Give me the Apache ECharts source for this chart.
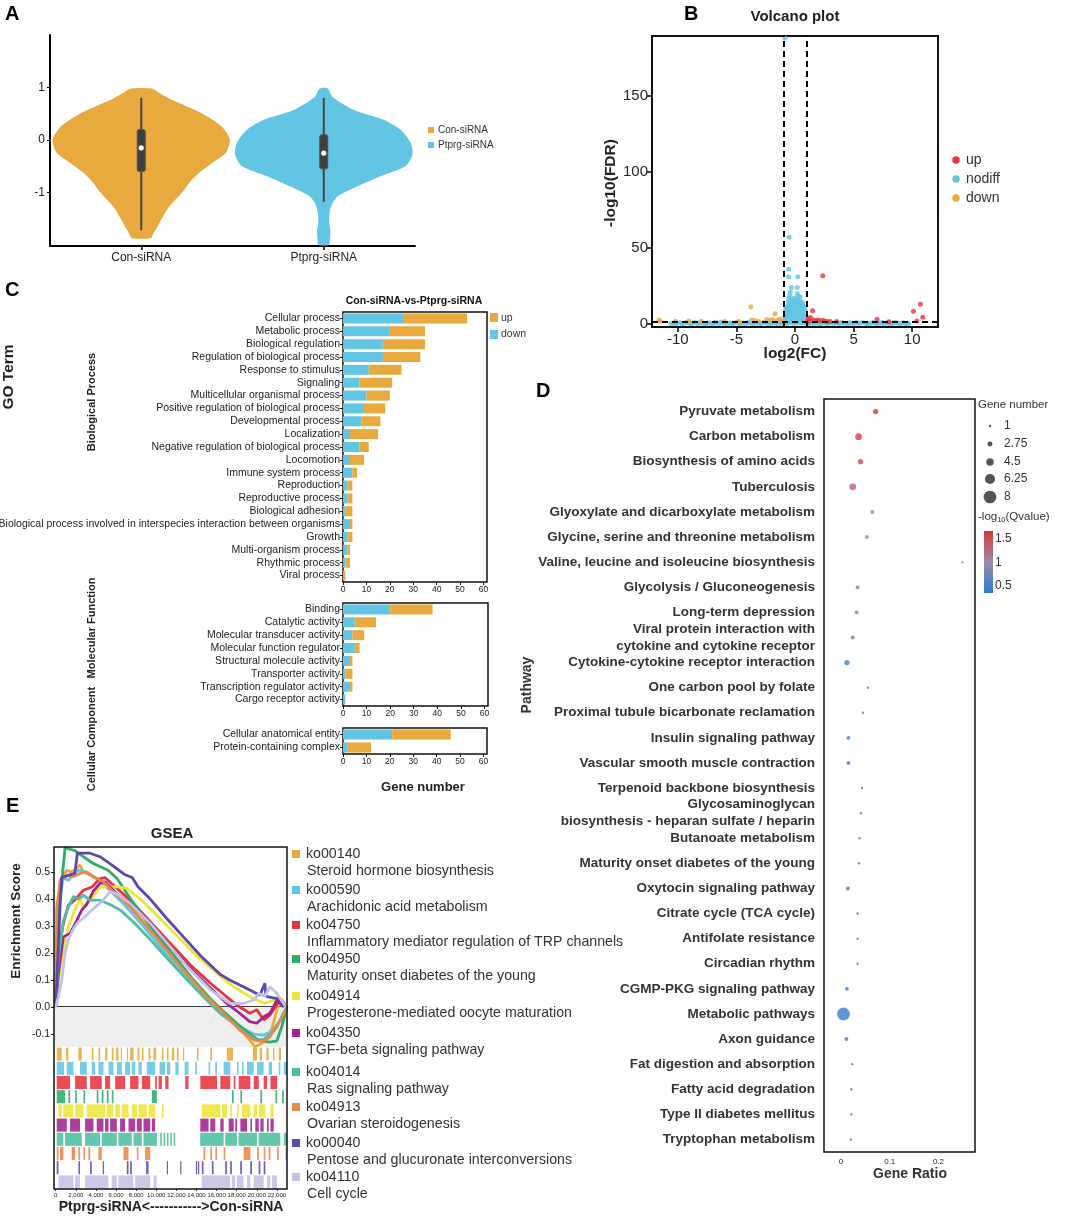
<!DOCTYPE html>
<html><head><meta charset="utf-8">
<script src="https://cdn.jsdelivr.net/npm/echarts@6/dist/echarts.min.js"></script>
<style>html,body{margin:0;padding:0;background:#fff}#c{width:1065px;height:1217px}</style>
</head><body><div id="c"></div>
<script>
// ---------------- DATA ----------------
// Panel A: violin profiles (value, relative half-width) and box stats
const violinGroups = ['Con-siRNA', 'Ptprg-siRNA'];
const conViolinY = [0.98, 0.9, 0.76, 0.5, 0.25, 0.0, -0.25, -0.44, -0.63, -0.8, -1.0, -1.28, -1.5, -1.66, -1.8, -1.87];
const conViolinW = [0.12, 0.2, 0.35, 0.69, 0.91, 1.0, 0.95, 0.8, 0.65, 0.55, 0.46, 0.31, 0.23, 0.18, 0.13, 0.11];
const ptViolinY = [0.98, 0.82, 0.57, 0.38, 0.19, -0.06, -0.28, -0.5, -0.69, -0.88, -1.06, -1.2, -1.35, -1.55, -1.75, -1.9, -2.0];
const ptViolinW = [0.045, 0.1, 0.34, 0.68, 0.87, 0.98, 1.0, 0.92, 0.64, 0.38, 0.17, 0.1, 0.07, 0.06, 0.075, 0.07, 0.06];
const conBox = [-1.72, -0.6, -0.15, 0.2, 0.8];   // whiskerLow, q1, median, q3, whiskerHigh
const ptBox = [-1.18, -0.55, -0.25, 0.1, 0.8];
const violinYTicks = [-1, 0, 1];

// Panel B: volcano points [log2FC, -log10FDR]
const volcanoUp = [[2.37,31.8],[1.5,8.7],[10.7,13],[10.1,8.3],[10.9,4.4],[7.0,3.1],[1.14,3.2],[1.3,4.2],[1.56,2.8],[1.8,2.3],[1.99,2.6],[2.2,2.0],[2.41,2.4],[2.7,1.8],[3.0,1.6],[3.55,1.7],[8.0,1.5],[1.2,2.0],[1.05,1.6],[10.4,2.0]];
const volcanoDown = [[-11.6,2.6],[-11.5,1.8],[-10.2,1.7],[-9.06,1.9],[-8.0,1.8],[-6.0,1.6],[-4.8,1.7],[-3.76,11.3],[-3.7,2.6],[-3.4,2.2],[-3.1,1.7],[-2.4,3.0],[-2.1,2.4],[-1.9,2.8],[-1.7,6.8],[-1.5,2.5],[-1.3,3.2],[-1.15,2.0],[-1.05,1.6]];
const volcanoNodiff = [[-10.4,0.5],[-10.1,0.2],[-9.8,0.9],[-9.5,0.4],[-9.1,0.7],[-8.8,0.1],[-8.4,0.6],[-8.1,1.0],[-7.7,0.3],[-7.4,0.8],[-7.0,0.2],[-6.7,0.6],[-6.3,1.1],[-6.0,0.4],[-5.6,0.7],[-5.3,0.2],[-4.9,0.9],[-4.6,0.5],[-4.2,0.1],[-3.9,0.8],[-3.5,0.4],[-3.2,1.0],[-2.9,0.3],[-2.5,0.7],[-2.2,0.2],[-1.9,0.9],[-1.6,0.5],[-1.3,1.1],[-1.1,0.3],
 [1.1,0.4],[1.3,1.0],[1.6,0.2],[1.9,0.7],[2.2,0.4],[2.5,1.1],[2.8,0.2],[3.1,0.6],[3.5,0.9],[3.8,0.3],[4.1,0.7],[4.5,0.1],[4.8,0.5],[5.2,1.0],[5.5,0.3],[5.9,0.7],[6.2,0.2],[6.6,0.9],[6.9,0.4],[7.3,0.6],[7.6,0.1],[8.0,0.8],[8.3,0.3],[8.7,0.6],[9.0,0.2],[9.4,0.5],[9.7,0.3],
 [-10.6,0.3],[-10.25,0.8],[-9.65,0.1],[-9.3,1.0],[-8.95,0.5],[-8.6,0.9],[-8.25,0.2],[-7.9,0.5],[-7.55,0.1],[-7.2,0.4],[-6.85,1.0],[-6.5,0.3],[-6.15,0.7],[-5.8,0.1],[-5.45,0.5],[-5.1,0.8],[-4.75,0.2],[-4.4,0.6],[-4.05,1.0],[-3.7,0.1],[-3.35,0.6],[-3.05,0.2],[-2.7,1.0],[-2.35,0.5],[-2.05,0.1],[-1.75,0.6],[-1.45,0.2],[-1.2,0.8],
 [1.2,0.1],[1.45,0.6],[1.75,0.9],[2.05,0.1],[2.35,0.7],[2.65,0.4],[2.95,0.9],[3.3,0.2],[3.65,0.6],[3.95,1.0],[4.3,0.4],[4.65,0.8],[5.0,0.2],[5.35,0.6],[5.7,0.9],[6.05,0.5],[6.4,0.1],[6.75,0.7],[7.1,0.3],[7.45,0.9],[7.8,0.5],[8.15,0.1],[8.5,0.9],[8.85,0.4],[9.2,0.8],[9.55,0.1],
 [-0.9,1.5],[-0.85,3],[-0.8,5],[-0.75,2],[-0.7,7],[-0.65,4],[-0.6,9],[-0.55,1],[-0.5,6],[-0.45,11],[-0.4,3],[-0.35,8],[-0.3,14],[-0.25,5],[-0.2,10],[-0.15,2],[-0.1,7],[-0.05,12],[0,4],[0.05,9],[0.1,1.5],[0.15,6],[0.2,11],[0.25,3],[0.3,8],[0.35,13],[0.4,5],[0.45,10],[0.5,2],[0.55,7],[0.6,12],[0.65,4],[0.7,9],[0.75,2.5],[0.8,6],[0.85,3.5],[0.9,1],
 [-0.88,4],[-0.78,10],[-0.68,5.5],[-0.62,12],[-0.58,3],[-0.48,8],[-0.42,14],[-0.38,6],[-0.28,9],[-0.22,13],[-0.18,4],[-0.12,17],[-0.08,9],[0.02,14],[0.08,6],[0.12,10],[0.18,3],[0.22,8],[0.28,13],[0.32,5],[0.38,10],[0.42,18],[0.48,7],[0.52,12],[0.58,4],[0.62,8],[0.68,14],[0.72,6],[0.78,11],[0.82,3],[0.88,7],
 [-0.6,15],[-0.5,17],[-0.45,19],[-0.4,21],[-0.35,16],[-0.5,13],[0.2,15],[0.25,18],[0.2,20],[0.3,16],[0.4,14],[0.5,15],[0.15,13],[-0.3,11],[0.05,16],[-0.15,15],[0.6,10],[0.7,12],[-0.7,11],[-0.8,8],[0.85,9],
 [-0.3,24],[0.2,24],[-0.54,31],[0.23,31],[-0.54,36],[-0.5,57],[-0.85,188],
 [-0.95,0.5],[-0.7,0.3],[-0.4,0.8],[-0.1,0.2],[0.2,0.6],[0.5,0.4],[0.8,0.9],[0.95,0.3]];
const fcThreshold = 1;
const fdrThreshold = 1.3;
const volcanoXTicks = [-10, -5, 0, 5, 10];
const volcanoYTicks = [0, 50, 100, 150];

// Panel C: GO terms (down / up gene numbers)
const goBP = ['Cellular process','Metabolic process','Biological regulation','Regulation of biological process','Response to stimulus','Signaling','Multicellular organismal process','Positive regulation of biological process','Developmental process','Localization','Negative regulation of biological process','Locomotion','Immune system process','Reproduction','Reproductive process','Biological adhesion','Biological process involved in interspecies interaction between organisms','Growth','Multi-organism process','Rhythmic process','Viral process'];
const goBPDown = [26,20,17,17,11,7,10,9,8,3,7,3,4,2,2,1,3,2,2,1,0];
const goBPUp   = [27,15,18,16,14,14,10,9,8,12,4,6,2,2,2,3,1,2,1,2,1];
const goMF = ['Binding','Catalytic activity','Molecular transducer activity','Molecular function regulator','Structural molecule activity','Transporter activity','Transcription regulator activity','Cargo receptor activity'];
const goMFDown = [20,5,4,5,3,1,3,1];
const goMFUp   = [18,9,5,2,1,3,1,0];
const goCC = ['Cellular anatomical entity','Protein-containing complex'];
const goCCDown = [21,2];
const goCCUp   = [25,10];
const goTicks = [0,10,20,30,40,50,60];

// Panel D: KEGG enrichment
const pathways = ['Pyruvate metabolism','Carbon metabolism','Biosynthesis of amino acids','Tuberculosis','Glyoxylate and dicarboxylate metabolism','Glycine, serine and threonine metabolism','Valine, leucine and isoleucine biosynthesis','Glycolysis / Gluconeogenesis','Long-term depression','Viral protein interaction with\ncytokine and cytokine receptor','Cytokine-cytokine receptor interaction','One carbon pool by folate','Proximal tubule bicarbonate reclamation','Insulin signaling pathway','Vascular smooth muscle contraction','Terpenoid backbone biosynthesis','Glycosaminoglycan\nbiosynthesis - heparan sulfate / heparin','Butanoate metabolism','Maturity onset diabetes of the young','Oxytocin signaling pathway','Citrate cycle (TCA cycle)','Antifolate resistance','Circadian rhythm','CGMP-PKG signaling pathway','Metabolic pathways','Axon guidance','Fat digestion and absorption','Fatty acid degradation','Type II diabetes mellitus','Tryptophan metabolism'];
const geneRatio = [0.071,0.036,0.040,0.024,0.064,0.053,0.249,0.034,0.032,0.024,0.012,0.055,0.045,0.015,0.015,0.043,0.041,0.038,0.037,0.014,0.034,0.034,0.034,0.012,0.005,0.011,0.023,0.021,0.021,0.020];
const geneNumber = [3,4,3,4,2,2,1,2,2,2,3,1,1,2,2,1,1,1,1,2,1,1,1,2,8,2,1,1,1,1];
const qValueLog = [1.67,1.62,1.45,1.35,1.25,1.15,1.0,0.8,0.72,0.6,0.5,0.45,0.45,0.42,0.42,0.42,0.4,0.4,0.4,0.4,0.4,0.4,0.4,0.4,0.4,0.4,0.4,0.4,0.4,0.4];
const ratioTicks = [0, 0.1, 0.2];
const sizeLegendValues = [1, 2.75, 4.5, 6.25, 8];
const qLegendTicks = [0.5, 1, 1.5];
const qMin = 0.34, qMax = 1.67;

// Panel E: GSEA
const gsIds = ['ko00140','ko00590','ko04750','ko04950','ko04914','ko04350','ko04014','ko04913','ko00040','ko04110'];
const gsNames = ['Steroid hormone biosynthesis','Arachidonic acid metabolism','Inflammatory mediator regulation of TRP channels','Maturity onset diabetes of the young','Progesterone-mediated oocyte maturation','TGF-beta signaling pathway','Ras signaling pathway','Ovarian steroidogenesis','Pentose and glucuronate interconversions','Cell cycle'];
// running enrichment score: [rank (thousands), ES]
const es_ko00140 = [[0,0],[0.1,0.25],[0.43,0.47],[1.1,0.507],[1.6,0.5],[2.42,0.526],[2.75,0.5],[3.75,0.483],[4.7,0.458],[6.07,0.42],[7.4,0.372],[9.4,0.285],[11.4,0.2],[13.4,0.112],[15.4,0.026],[16.7,-0.023],[18.0,-0.067],[19.3,-0.122],[19.8,-0.147],[20.5,-0.135],[21.0,-0.11],[21.5,-0.08],[22.0,-0.01],[22.3,0.03],[22.6,0]];
const es_ko00590 = [[0,0],[0.27,0.37],[0.76,0.48],[1.26,0.47],[1.76,0.49],[2.25,0.507],[3.08,0.5],[4.08,0.476],[5.4,0.433],[6.7,0.384],[8.7,0.3],[10.7,0.21],[12.7,0.125],[14.7,0.05],[16.7,-0.023],[18.3,-0.073],[19.7,-0.1],[20.7,-0.104],[21.5,-0.09],[22.3,-0.05],[23,0]];
const es_ko04750 = [[0,0],[0.27,0.21],[0.76,0.31],[1.26,0.378],[1.9,0.396],[2.75,0.433],[3.6,0.445],[4.4,0.476],[4.9,0.48],[6.07,0.44],[7.4,0.396],[9.4,0.316],[11.4,0.236],[13.4,0.156],[15.4,0.088],[17.0,0.038],[18.3,0.0],[19.3,-0.023],[20.0,-0.01],[20.7,-0.048],[21.3,-0.03],[22.0,0.01],[22.4,0.03],[23,0]];
const es_ko04950 = [[0,0],[0.3,0.35],[0.93,0.59],[1.9,0.58],[2.75,0.557],[3.75,0.532],[5.2,0.507],[6.1,0.476],[7.1,0.42],[8.4,0.35],[10.0,0.27],[12.0,0.18],[13.7,0.1],[15.4,0.03],[16.5,-0.01],[18.0,-0.06],[19.3,-0.1],[20.3,-0.125],[21.3,-0.13],[22.0,-0.125],[22.5,-0.07],[23,0]];
const es_ko04914 = [[0,0],[0.27,0.1],[0.76,0.21],[1.26,0.3],[1.76,0.347],[2.42,0.4],[2.75,0.37],[3.75,0.41],[4.4,0.445],[6.07,0.446],[7.07,0.44],[8.4,0.4],[10.05,0.34],[12.0,0.267],[14.0,0.19],[16.0,0.125],[17.7,0.075],[19.3,0.038],[20.7,0.014],[21.3,0.02],[22.3,0.032],[23,0]];
const es_ko04350 = [[0,0],[0.27,0.125],[0.76,0.26],[1.43,0.273],[2.09,0.32],[2.6,0.36],[3.08,0.38],[3.75,0.43],[4.4,0.458],[4.9,0.464],[6.07,0.42],[7.4,0.384],[9.4,0.31],[11.4,0.223],[13.4,0.143],[15.4,0.07],[17.0,0.014],[18.3,-0.023],[19.3,-0.054],[20.0,-0.06],[20.7,-0.036],[21.3,-0.023],[22.0,0.026],[22.7,0]];
const es_ko04014 = [[0,0],[0.27,0.186],[0.76,0.32],[1.26,0.37],[1.76,0.41],[2.25,0.4],[2.75,0.415],[3.4,0.396],[4.4,0.396],[5.4,0.38],[6.4,0.36],[7.7,0.316],[9.4,0.25],[11.4,0.168],[13.4,0.088],[15.0,0.026],[16.35,-0.023],[17.7,-0.06],[19.0,-0.1],[20.0,-0.122],[20.7,-0.12],[21.3,-0.104],[22.0,-0.074],[22.6,-0.025],[23,0]];
const es_ko04913 = [[0,0],[0.1,0.37],[0.43,0.458],[1.1,0.49],[1.76,0.483],[2.42,0.495],[3.08,0.5],[3.75,0.483],[4.74,0.464],[5.7,0.427],[7.07,0.384],[9.05,0.3],[11.05,0.21],[13.0,0.125],[15.0,0.038],[16.7,-0.023],[18.3,-0.085],[19.7,-0.122],[20.7,-0.128],[21.3,-0.11],[22.3,-0.05],[23,-0.005]];
const es_ko00040 = [[0,0],[0.43,0.37],[0.6,0.48],[1.9,0.495],[2.16,0.57],[3.4,0.57],[4.4,0.557],[5.6,0.526],[6.9,0.49],[7.6,0.48],[8.2,0.445],[9.4,0.40],[11.0,0.33],[12.7,0.26],[14.4,0.19],[16.4,0.12],[17.3,0.10],[19.3,0.063],[20.3,0.044],[20.8,0.088],[20.9,0.04],[21.5,0.035],[22.2,0.03],[23,0]];
const es_ko04110 = [[0,0],[0.26,0.038],[0.6,0.1],[0.93,0.2],[1.26,0.25],[1.76,0.29],[2.25,0.316],[2.92,0.334],[3.4,0.353],[3.9,0.37],[4.57,0.39],[5.4,0.427],[6.07,0.42],[7.4,0.384],[9.4,0.31],[11.4,0.223],[13.4,0.137],[15.4,0.063],[17.3,0.014],[18.7,0.014],[19.7,0.026],[20.2,0.05],[20.8,0.04],[21.3,0.075],[22.0,0.05],[22.7,0.01],[23,0]];
// hit positions: [start, end] in rank thousands
const rug_ko00140 = [[0.1,0.6],[1.03,1.26],[2.26,2.59],[3.58,3.75],[4.25,4.42],[4.91,5.15],[5.58,5.74],[6.01,6.24],[6.47,6.57],[7.07,7.14],[7.4,7.74],[8.13,8.33],[8.57,8.73],[9.23,9.4],[9.73,9.99],[10.56,10.72],[11.06,11.22],[11.55,11.79],[12.05,12.22],[12.65,12.78],[14.04,14.21],[15.37,15.54],[17.03,17.63],[19.62,20.02],[20.29,20.52],[20.95,21.18],[21.61,21.75],[22.18,22.41]];
const rug_ko00590 = [[0.1,0.83],[1.1,1.76],[2.42,3.09],[3.58,3.92],[4.25,4.75],[5.25,5.74],[6.08,6.57],[6.9,7.4],[7.57,7.9],[8.23,8.56],[9.06,9.89],[10.33,10.89],[11.06,11.39],[11.89,12.22],[12.82,13.21],[13.88,14.04],[15.2,15.37],[15.87,16.04],[16.7,17.36],[18.03,18.19],[18.53,18.69],[19.02,19.69],[20.02,20.68],[21.18,21.51],[22.18,22.34],[22.68,23.0]];
const rug_ko04750 = [[0.1,1.43],[1.93,3.09],[3.42,4.58],[4.91,5.41],[5.91,6.9],[7.4,8.23],[8.56,9.4],[9.89,10.06],[10.23,10.56],[10.89,11.22],[12.88,13.21],[14.38,16.04],[16.37,17.36],[17.7,17.86],[18.19,19.36],[19.69,20.19],[20.68,21.01],[21.35,22.01]];
const rug_ko04950 = [[0.1,0.93],[1.26,1.43],[1.93,2.09],[2.76,2.92],[4.08,4.25],[4.58,4.75],[5.08,5.25],[5.58,5.74],[9.56,10.06],[17.53,17.7],[18.36,18.53],[20.35,20.52],[21.85,22.01],[22.51,22.68]];
const rug_ko04914 = [[0.27,0.6],[0.76,1.76],[1.93,2.76],[3.09,4.91],[5.08,5.74],[5.91,6.4],[6.57,7.24],[7.57,8.07],[8.23,9.06],[9.23,9.89],[10.56,10.72],[14.54,16.37],[16.53,17.03],[17.36,17.53],[18.03,18.19],[18.53,19.36],[19.69,20.02],[20.19,20.85],[21.35,21.68]];
const rug_ko04350 = [[0.1,1.1],[1.43,2.42],[2.92,3.75],[4.08,4.75],[4.91,5.25],[5.41,6.08],[6.4,6.9],[7.24,7.9],[8.07,8.56],[8.73,9.4],[9.56,9.89],[14.38,15.2],[15.37,15.87],[16.37,16.7],[17.2,17.7],[17.86,18.03],[18.36,19.02],[19.36,19.52],[19.85,20.19],[20.35,20.68],[21.01,21.18],[21.35,21.68]];
const rug_ko04014 = [[0.1,0.76],[0.93,2.59],[2.92,4.41],[4.58,6.07],[6.24,7.57],[7.74,8.56],[8.73,10.06],[10.39,10.56],[10.72,10.89],[11.06,11.22],[11.39,11.55],[11.72,11.89],[14.37,16.7],[16.86,18.02],[18.19,20.01],[20.18,22.34],[22.68,23.0]];
const rug_ko04913 = [[0.1,0.27],[0.43,0.76],[1.59,1.93],[2.26,2.42],[2.76,2.92],[3.25,3.42],[4.25,4.58],[6.74,7.24],[8.07,8.23],[8.89,9.4],[14.7,14.87],[15.37,15.54],[15.87,16.04],[16.7,16.86],[18.69,19.36],[20.02,20.19],[20.68,20.85],[21.18,21.35],[22.01,22.18],[22.85,23.0]];
const rug_ko00040 = [[0.1,0.27],[2.26,2.42],[3.42,3.58],[4.68,4.81],[7.07,7.24],[7.4,7.57],[8.99,9.23],[11.05,11.15],[12.38,12.48],[13.94,14.04],[14.14,14.27],[14.54,14.7],[15.53,15.7],[16.85,17.02],[17.35,17.52],[18.35,18.52],[19.35,19.52],[20.18,20.35],[20.68,20.85]];
const rug_ko04110 = [[0.27,1.76],[1.93,2.42],[2.92,5.24],[5.57,6.07],[6.24,7.73],[7.9,9.39],[9.72,10.05],[14.53,17.35],[17.52,17.85],[18.02,18.68],[19.02,19.35],[19.68,20.68],[21.01,21.34],[21.51,22.0]];
const esTicks = [-0.1, 0, 0.1, 0.2, 0.3, 0.4, 0.5];
const rankTicks = [0, 2, 4, 6, 8, 10, 12, 14, 16, 18, 20, 22];

// ---------------- STYLE ----------------
const FF = '"Liberation Sans", Arial, Helvetica, sans-serif';
const ORANGE = '#E8A93E', BLUE = '#62C5E3', RED = '#E8343F';
const violinColors = [ORANGE, BLUE];
const gsColors = ['#E8A93E','#62C5E3','#E8343F','#2BAE66','#EDE538','#A0248F','#4DBFA0','#EE8548','#5B48A8','#C3C1E6'];
const qColors = ['#2B7BD4', '#9C8CA6', '#D5393B'];
const geneSize = n => 0.9 + 1.48 * n;

const violinProfiles = [[conViolinY, conViolinW], [ptViolinY, ptViolinW]];
const violinBoxes = [conBox, ptBox];
const esSets = [es_ko00140, es_ko00590, es_ko04750, es_ko04950, es_ko04914, es_ko04350, es_ko04014, es_ko04913, es_ko00040, es_ko04110];
const rugSets = [rug_ko00140, rug_ko00590, rug_ko04750, rug_ko04950, rug_ko04914, rug_ko04350, rug_ko04014, rug_ko04913, rug_ko00040, rug_ko04110];

// ---------------- CHART ----------------
const chart = echarts.init(document.getElementById('c'), null, {renderer: 'canvas'});

const base = {outerBoundsMode: 'none', containLabel: false};
const frame = {show: true, borderColor: '#111', borderWidth: 1.5, backgroundColor: 'transparent'};
const grids = [
  Object.assign({left: 50, top: 35, width: 365, height: 211}, base),                           // 0 A
  Object.assign({left: 652, top: 36, width: 286, height: 291}, base, frame, {borderWidth: 2}),  // 1 B
  Object.assign({left: 343, top: 312, width: 144, height: 270}, base, frame),   // 2 C BP
  Object.assign({left: 343, top: 603, width: 145, height: 103}, base, frame),   // 3 C MF
  Object.assign({left: 343, top: 728, width: 144, height: 26}, base, frame),    // 4 C CC
  Object.assign({left: 824, top: 399, width: 151, height: 753}, base, frame),   // 5 D
  Object.assign({left: 984, top: 531, width: 9, height: 62}, base),             // 6 colorbar
  Object.assign({left: 54, top: 847, width: 233, height: 200}, base),           // 7 ES
  Object.assign({left: 54, top: 1047, width: 233, height: 142}, base)           // 8 rug
];

const noSplit = {show: false};
function goX(g) {
  return {gridIndex: g, type: 'value', min: 0, max: 61.5,
    axisLine: {show: false, onZero: false},
    axisTick: {show: true, customValues: goTicks, length: 3, lineStyle: {color: '#111'}},
    axisLabel: {customValues: goTicks, fontSize: 8.5, color: '#222', margin: 3, fontFamily: FF},
    splitLine: noSplit};
}
function goY(g, cats) {
  return {gridIndex: g, type: 'category', data: cats, inverse: true,
    axisLine: {show: false},
    axisTick: {show: true, alignWithLabel: true, length: 3, lineStyle: {color: '#111'}},
    axisLabel: {fontSize: 10.5, color: '#222', margin: 3, interval: 0, fontFamily: FF},
    splitLine: noSplit};
}

const xAxis = [
  {gridIndex: 0, type: 'category', data: violinGroups,
    axisLine: {show: true, onZero: false, lineStyle: {color: '#000', width: 2}},
    axisTick: {show: true, alignWithLabel: true, length: 4, lineStyle: {color: '#000', width: 1.5}},
    axisLabel: {fontSize: 12, color: '#222', margin: 6, fontFamily: FF}, splitLine: noSplit},
  {gridIndex: 1, type: 'value', min: -12.2, max: 12.2,
    axisLine: {show: false, onZero: false},
    axisTick: {show: true, customValues: volcanoXTicks, length: 5, lineStyle: {color: '#000', width: 1.5}},
    axisLabel: {customValues: volcanoXTicks, fontSize: 15, color: '#222', margin: 5, fontFamily: FF}, splitLine: noSplit},
  goX(2), goX(3), goX(4),
  {gridIndex: 5, type: 'value', min: -0.035, max: 0.275,
    axisLine: {show: false, onZero: false}, axisTick: {show: false},
    axisLabel: {customValues: ratioTicks, fontSize: 8, color: '#222', margin: 6, fontFamily: FF}, splitLine: noSplit},
  {gridIndex: 6, type: 'value', min: 0, max: 1, show: false},
  {gridIndex: 7, type: 'value', min: -0.17, max: 23,
    axisLine: {show: true, onZero: true, lineStyle: {color: '#000', width: 1.5}},
    axisTick: {show: false}, axisLabel: {show: false}, splitLine: noSplit},
  {gridIndex: 8, type: 'value', min: -0.17, max: 23,
    axisLine: {show: false, onZero: false},
    axisTick: {show: true, customValues: rankTicks, length: 2, lineStyle: {color: '#111', width: 0.8}},
    axisLabel: {customValues: rankTicks, formatter: v => (v * 1000).toLocaleString('en-US'), fontSize: 6, color: '#222', margin: 3, fontFamily: FF},
    splitLine: noSplit}
];

const yAxis = [
  {gridIndex: 0, type: 'value', min: -2.02, max: 2.0,
    axisLine: {show: true, onZero: false, lineStyle: {color: '#000', width: 2}},
    axisTick: {show: true, customValues: violinYTicks, length: 3, lineStyle: {color: '#000'}},
    axisLabel: {customValues: violinYTicks, fontSize: 12, color: '#222', margin: 5, fontFamily: FF}, splitLine: noSplit},
  {gridIndex: 1, type: 'value', min: -2, max: 189.5,
    axisLine: {show: false, onZero: false},
    axisTick: {show: true, customValues: volcanoYTicks, length: 5, lineStyle: {color: '#000', width: 1.5}},
    axisLabel: {customValues: volcanoYTicks, fontSize: 15, color: '#222', margin: 4, fontFamily: FF}, splitLine: noSplit},
  goY(2, goBP), goY(3, goMF), goY(4, goCC),
  {gridIndex: 5, type: 'category', data: pathways, inverse: true,
    axisLine: {show: false}, axisTick: {show: false},
    axisLabel: {fontSize: 13.5, fontWeight: 'bold', color: '#333', margin: 9, interval: 0, lineHeight: 17, fontFamily: FF},
    splitLine: noSplit},
  {gridIndex: 6, type: 'value', min: qMin, max: qMax, position: 'right',
    axisLine: {show: false, onZero: false},
    axisTick: {show: true, inside: true, customValues: qLegendTicks, length: 2, lineStyle: {color: '#fff', width: 1.2}},
    axisLabel: {customValues: qLegendTicks, fontSize: 12, color: '#333', margin: 2, fontFamily: FF}, splitLine: noSplit},
  {gridIndex: 7, type: 'value', min: -0.148, max: 0.593,
    axisLine: {show: false, onZero: false},
    axisTick: {show: true, customValues: esTicks, length: 3, lineStyle: {color: '#111'}},
    axisLabel: {customValues: esTicks, formatter: v => v.toFixed(1), fontSize: 10.5, color: '#222', margin: 4, fontFamily: FF},
    splitLine: noSplit},
  {gridIndex: 8, type: 'category', data: gsIds, inverse: true, show: false}
];

function renderViolin(params, api) {
  const i = api.value(0);
  const prof = violinProfiles[i];
  const box = violinBoxes[i];
  const half = api.size([1, 0])[0] * 0.486;
  const R = [], L = [];
  for (let k = 0; k < prof[0].length; k++) {
    const p = api.coord([i, prof[0][k]]);
    R.push([p[0] + prof[1][k] * half, p[1]]);
    L.push([p[0] - prof[1][k] * half, p[1]]);
  }
  const pts = R.concat(L.reverse());
  const lo = api.coord([i, box[0]]), q1 = api.coord([i, box[1]]), med = api.coord([i, box[2]]),
        q3 = api.coord([i, box[3]]), hi = api.coord([i, box[4]]);
  return {type: 'group', children: [
    {type: 'polygon', shape: {points: pts, smooth: 0.25}, style: {fill: violinColors[i]}},
    {type: 'line', shape: {x1: lo[0], y1: lo[1], x2: hi[0], y2: hi[1]}, style: {stroke: '#444', lineWidth: 2}},
    {type: 'rect', shape: {x: q1[0] - 4, y: q3[1], width: 8, height: q1[1] - q3[1], r: 2}, style: {fill: '#3f3f3f', stroke: '#555', lineWidth: 1}},
    {type: 'circle', shape: {cx: med[0], cy: med[1], r: 2.6}, style: {fill: '#fff'}}
  ]};
}

function renderColorbar(params, api) {
  const a = api.coord([0, api.value(1)]);
  const b = api.coord([1, api.value(2)]);
  return {type: 'rect', shape: {x: a[0], y: b[1], width: b[0] - a[0], height: a[1] - b[1]},
    style: {fill: {type: 'linear', x: 0, y: 1, x2: 0, y2: 0,
      colorStops: qColors.map((c, j) => ({offset: j / (qColors.length - 1), color: c}))}}};
}

function renderRug(params, api) {
  const row = api.value(0);
  const p1 = api.coord([api.value(1), row]);
  const p2 = api.coord([api.value(2), row]);
  const h = api.size([0, 1])[1];
  return {type: 'rect', shape: {x: p1[0], y: p1[1] - h * 0.46, width: Math.max(p2[0] - p1[0], 1.2), height: h * 0.92},
    style: {fill: gsColors[row], opacity: 0.88}};
}

const series = [];
// A
series.push({type: 'custom', name: 'violin', xAxisIndex: 0, yAxisIndex: 0, data: [[0], [1]], encode: {x: 0}, renderItem: renderViolin, silent: true});
// B
series.push({type: 'scatter', name: 'nodiff', xAxisIndex: 1, yAxisIndex: 1, data: volcanoNodiff, symbolSize: 5, itemStyle: {color: BLUE}, z: 2});
series.push({type: 'scatter', name: 'up', xAxisIndex: 1, yAxisIndex: 1, data: volcanoUp, symbolSize: 5, itemStyle: {color: RED}, z: 3});
series.push({type: 'scatter', name: 'down', xAxisIndex: 1, yAxisIndex: 1, data: volcanoDown, symbolSize: 5, itemStyle: {color: ORANGE}, z: 3});
series.push({type: 'line', name: 'thresholds', xAxisIndex: 1, yAxisIndex: 1, data: [], z: 6,
  markLine: {silent: true, symbol: 'none', label: {show: false}, animation: false,
    lineStyle: {color: '#000', type: [6, 4], width: 2},
    data: [{xAxis: -fcThreshold}, {xAxis: fcThreshold}, {yAxis: fdrThreshold}]}});
// C
[[2, goBPDown, goBPUp, 'bp'], [3, goMFDown, goMFUp, 'mf'], [4, goCCDown, goCCUp, 'cc']].forEach(([g, dn, up, st]) => {
  series.push({type: 'bar', name: 'down-' + st, xAxisIndex: g, yAxisIndex: g, stack: st, data: dn, barWidth: '78%', itemStyle: {color: BLUE}});
  series.push({type: 'bar', name: 'up-' + st, xAxisIndex: g, yAxisIndex: g, stack: st, data: up, barWidth: '78%', itemStyle: {color: ORANGE}});
});
// D
const dIndex = series.length;
series.push({type: 'scatter', name: 'kegg', xAxisIndex: 5, yAxisIndex: 5,
  data: pathways.map((p, i) => [geneRatio[i], p, geneNumber[i], qValueLog[i]]),
  encode: {x: 0, y: 1}, symbolSize: v => geneSize(v[2])});
series.push({type: 'custom', name: 'qbar', xAxisIndex: 6, yAxisIndex: 6, data: [[0, qMin, qMax]], encode: {x: 0, y: [1, 2]}, renderItem: renderColorbar, silent: true});
// E
esSets.forEach((d, i) => {
  const s = {type: 'line', name: gsIds[i], xAxisIndex: 7, yAxisIndex: 7, data: d, showSymbol: false, symbol: 'none',
    lineStyle: {color: gsColors[i], width: 2.8}, itemStyle: {color: gsColors[i]}, z: 3};
  if (i === 0) s.markArea = {silent: true, itemStyle: {color: '#efefef'}, data: [[{yAxis: -0.148}, {yAxis: 0}]]};
  series.push(s);
});
series.push({type: 'custom', name: 'hits', xAxisIndex: 8, yAxisIndex: 8,
  data: rugSets.flatMap((segs, r) => segs.map(sg => [r, sg[0], sg[1]])),
  encode: {x: [1, 2], y: 0}, renderItem: renderRug, silent: true});

// ---------------- TEXT & LEGENDS ----------------
const G = [];
function T(x, y, text, size, o) {
  o = o || {};
  const al = o.align || 'left';
  const st = {text, fontFamily: FF, fontSize: size, fontWeight: o.bold ? 'bold' : 'normal', fill: o.color || '#222',
    align: al, textAlign: al, verticalAlign: 'middle', textVerticalAlign: 'middle'};
  if (o.rich) st.rich = o.rich;
  G.push({type: 'text', x, y, z: 100, silent: true, rotation: o.rot || 0, style: st});
}
function R(x, y, w, h, fill) { G.push({type: 'rect', z: 100, silent: true, shape: {x, y, width: w, height: h}, style: {fill}}); }
function C(cx, cy, r, fill) { G.push({type: 'circle', z: 100, silent: true, shape: {cx, cy, r}, style: {fill}}); }
const ROT = Math.PI / 2;

// panel letters
T(5, 14, 'A', 20, {bold: true, color: '#000'});
T(684, 14, 'B', 20, {bold: true, color: '#000'});
T(5, 290, 'C', 20, {bold: true, color: '#000'});
T(536, 391, 'D', 20, {bold: true, color: '#000'});
T(6, 806, 'E', 20, {bold: true, color: '#000'});

// A legend
R(428, 127, 6, 6, ORANGE); T(438, 130, 'Con-siRNA', 10, {color: '#333'});
R(428, 142, 6, 6, BLUE); T(438, 145.5, 'Ptprg-siRNA', 10, {color: '#333'});

// B texts
T(795, 17, 'Volcano plot', 15, {bold: true, align: 'center'});
T(611, 183, '-log10(FDR)', 15.5, {bold: true, align: 'center', rot: ROT});
T(795, 354, 'log2(FC)', 15.5, {bold: true, align: 'center'});
C(956, 160, 3.7, RED); T(966, 160, 'up', 14, {color: '#333'});
C(956, 179, 3.7, BLUE); T(966, 179, 'nodiff', 14, {color: '#333'});
C(956, 198, 3.7, ORANGE); T(966, 198, 'down', 14, {color: '#333'});

// C texts
T(414, 301, 'Con-siRNA-vs-Ptprg-siRNA', 10.5, {bold: true, align: 'center', color: '#111'});
T(9, 377, 'GO Term', 15.5, {bold: true, align: 'center', rot: ROT});
T(92, 402, 'Biological Process', 11, {bold: true, align: 'center', rot: ROT});
T(92, 628, 'Molecular Function', 11, {bold: true, align: 'center', rot: ROT});
T(92, 739, 'Cellular Component', 11, {bold: true, align: 'center', rot: ROT});
T(423, 787, 'Gene number', 13, {bold: true, align: 'center'});
R(490, 313, 8, 9, ORANGE); T(501, 318, 'up', 10.5, {color: '#333'});
R(490, 330, 8, 9, BLUE); T(501, 334, 'down', 10.5, {color: '#333'});

// D texts
T(527, 685, 'Pathway', 14, {bold: true, align: 'center', rot: ROT, color: '#333'});
T(910, 1174, 'Gene Ratio', 14, {bold: true, align: 'center', color: '#333'});
T(978, 405, 'Gene number', 11.5, {color: '#333'});
const sizeLegendY = [426, 444, 462, 479, 497];
sizeLegendValues.forEach((v, i) => { C(990, sizeLegendY[i], geneSize(v) / 2, '#555'); T(1004, sizeLegendY[i], String(v), 12, {color: '#333'}); });
T(978, 517, '-log{s|10}(Qvalue)', 11.5, {color: '#333', rich: {s: {fontSize: 7.5, fontFamily: FF, fill: '#333', verticalAlign: 'bottom', padding: [6, 0, 0, 0]}}});

// E texts
T(172, 834, 'GSEA', 15, {bold: true, align: 'center'});
T(16, 921, 'Enrichment Score', 13.5, {bold: true, align: 'center', rot: ROT});
T(171, 1207, 'Ptprg-siRNA<----------->Con-siRNA', 14, {bold: true, align: 'center'});
G.push({type: 'rect', z: 100, silent: true, shape: {x: 54, y: 847, width: 233, height: 342}, style: {fill: 'none', stroke: '#111', lineWidth: 1.5}});
const legendY = [854, 890, 925, 959, 996, 1033, 1072, 1107, 1143, 1177];
gsIds.forEach((id, i) => {
  R(292, legendY[i] - 4, 8, 8, gsColors[i]);
  T(306, legendY[i], id, 14.2, {color: '#333'});
  T(307, legendY[i] + 17.5, gsNames[i], 14.2, {color: '#333'});
});

chart.setOption({
  animation: false,
  backgroundColor: '#fff',
  textStyle: {fontFamily: FF},
  grid: grids,
  xAxis, yAxis,
  visualMap: [{type: 'continuous', show: false, seriesIndex: dIndex, dimension: 3, min: qMin, max: qMax, inRange: {color: qColors}}],
  series,
  graphic: {elements: G}
});
</script></body></html>
